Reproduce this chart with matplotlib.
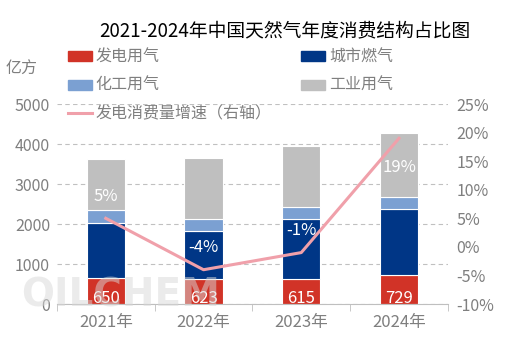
import numpy as np
import matplotlib.pyplot as plt
from matplotlib.patches import Patch
from matplotlib.lines import Line2D

plt.rcParams['font.family'] = ['Noto Sans CJK SC', 'DejaVu Sans']

years = ['2021年', '2022年', '2023年', '2024年']
power = [650, 623, 615, 729]        # 发电用气
city = [1380, 1210, 1518, 1638]     # 城市燃气
chem = [310, 284, 300, 316]         # 化工用气
industry = [1290, 1540, 1509, 1600] # 工业用气
growth = [5, -4, -1, 19]            # 发电消费量增速 %
growth_labels = ['5%', '-4%', '-1%', '19%']

c_red = '#D13327'
c_navy = '#003686'
c_lblue = '#7BA0D2'
c_gray = '#BFBFBF'
c_pink = '#F0A0AA'
txt = '#7F7F7F'

fig = plt.figure(figsize=(5.22, 3.48), dpi=100)
ax = fig.add_axes([0.109, 0.1264, 0.749, 0.5747])
x = np.arange(len(years))
w = 0.39

b1 = np.array(power)
b2 = b1 + np.array(city)
b3 = b2 + np.array(chem)
ax.bar(x, power, w, color=c_red, edgecolor='white', linewidth=0.8, zorder=2)
ax.bar(x, city, w, bottom=b1, color=c_navy, edgecolor='white', linewidth=0.8, zorder=2)
ax.bar(x, chem, w, bottom=b2, color=c_lblue, edgecolor='white', linewidth=0.8, zorder=2)
ax.bar(x, industry, w, bottom=b3, color=c_gray, edgecolor='white', linewidth=0.8, zorder=2)

for i, v in enumerate(power):
    ax.text(x[i], 140, str(v), color='white', ha='center', va='center', fontsize=12, zorder=5)

ax.set_xlim(-0.5, 3.5)
ax.set_ylim(0, 5000)
ax.set_yticks(range(0, 5001, 1000))
ax.yaxis.grid(True, linestyle=(0, (4, 3)), color='#C0C0C0', linewidth=0.8)
ax.set_axisbelow(True)
for s in ['top', 'right', 'left']:
    ax.spines[s].set_visible(False)
ax.spines['bottom'].set_color('#BFBFBF')
ax.tick_params(axis='y', length=0, labelcolor=txt, labelsize=11.5, pad=5)
ax.set_xticks(x)
ax.set_xticklabels(years)
ax.tick_params(axis='x', length=0, labelcolor=txt, labelsize=12, pad=7)
ax.set_xticks(np.arange(-0.5, 4, 1), minor=True)
ax.tick_params(axis='x', which='minor', length=5, color='#BFBFBF')

ax2 = ax.twinx()
ax2.set_ylim(-10, 25)
ax2.set_yticks(range(-10, 26, 5))
ax2.set_yticklabels([f'{t}%' for t in range(-10, 26, 5)])
ax2.tick_params(axis='y', length=0, labelcolor=txt, labelsize=11.5, pad=6)
for s in ax2.spines.values():
    s.set_visible(False)
ax2.plot(x, growth, color=c_pink, linewidth=2.2, zorder=4)
offs = [16, 16, 16, -21]
for i, g in enumerate(growth):
    ax2.annotate(growth_labels[i], (x[i], g), xytext=(0, offs[i]), textcoords='offset points',
                 ha='center', va='center', color='white', fontsize=12, zorder=6)

# watermark
fig.text(0.04, 0.15, 'OILCHEM', fontsize=28, fontweight='bold', color='#D8D8D8',
         alpha=0.5, ha='left', va='center', family='DejaVu Sans', zorder=10)

fig.text(0.545, 0.91, '2021-2024年中国天然气年度消费结构占比图', ha='center', va='center',
         fontsize=13.5, color='black')
fig.text(0.01, 0.80, '亿方', ha='left', va='center', fontsize=11.5, color=txt)

handles = [Patch(color=c_red), Patch(color=c_lblue), Line2D([], [], color=c_pink, linewidth=2.2),
           Patch(color=c_navy), Patch(color=c_gray)]
labels = ['发电用气', '化工用气', '发电消费量增速（右轴）', '城市燃气', '工业用气']
leg = fig.legend(handles, labels, ncol=2, loc='upper left', bbox_to_anchor=(0.13, 0.86),
                 frameon=False, fontsize=11.5, handlelength=1.5, handleheight=0.6,
                 handletextpad=0.25, labelspacing=0.72, columnspacing=1.85, borderaxespad=0,
                 borderpad=0)
for t in leg.get_texts():
    t.set_color(txt)

fig.savefig('out.png', dpi=100)
